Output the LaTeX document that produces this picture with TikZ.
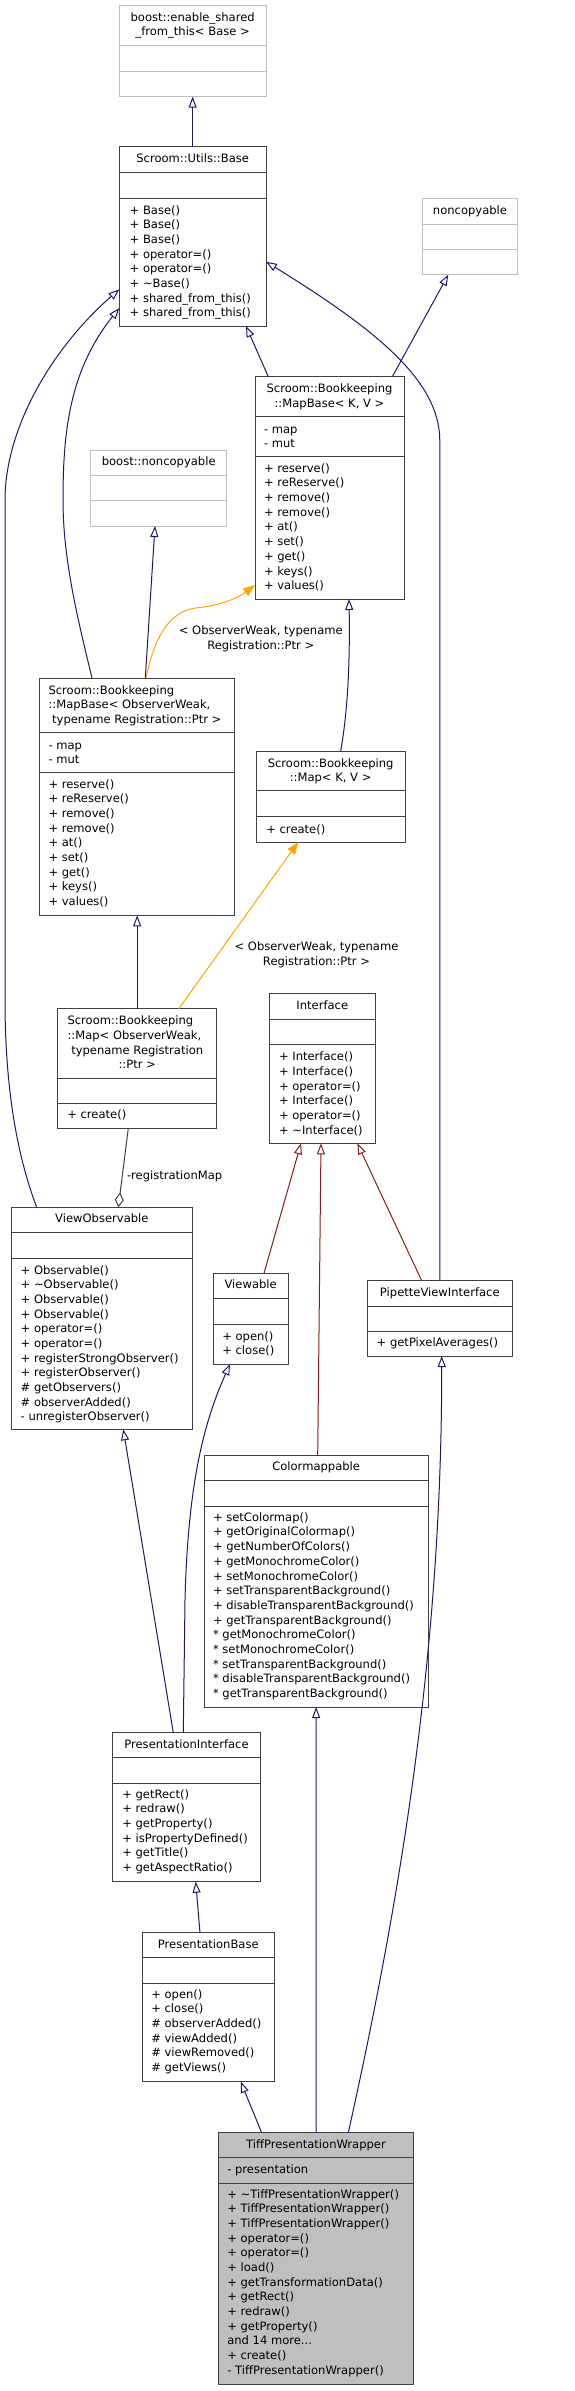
\documentclass[tikz,border=0pt]{standalone}
\usepackage{fontspec}
\setmainfont{DejaVu Sans}
\usetikzlibrary{arrows.meta}
\definecolor{edgeblue}{HTML}{191970}
\definecolor{edgered}{HTML}{8B1A1A}
\definecolor{edgeorange}{HTML}{FFA500}
\definecolor{edgegray}{HTML}{404040}
\definecolor{boxline}{HTML}{404040}
\definecolor{lightline}{HTML}{BFBFBF}
\definecolor{hlfill}{HTML}{BFBFBF}
\tikzset{
 txt/.style={inner sep=0pt, outer sep=0pt, font=\fontsize{11.55}{14.67}\selectfont},
 umlbox/.style={draw=boxline, line width=1pt, inner sep=0pt, outer sep=0pt, fill=white},
 extbox/.style={umlbox, draw=lightline},
 hlbox/.style={umlbox, fill=hlfill},
 inh/.style={draw=edgeblue, line width=1pt, -{Triangle[open, length=11pt, width=8pt]}},
 prot/.style={inh, draw=edgered},
 tmpl/.style={draw=edgeorange, line width=1pt, -{Triangle[length=12pt, width=9pt, fill=edgeorange]}},
 usage/.style={draw=edgegray, line width=1pt, -{Diamond[open, length=15pt, width=9pt]}},
}
% #1 name, #2 style, #3 separator colour, #4 L, #5 T, #6 W, #7 H, #8 s1, #9 s2
\newcommand\umlclass[9]{%
 \node[#2, anchor=north west, minimum width=#6pt, minimum height=#7pt] (#1) at (#4,#5) {};
 \draw[line width=1pt, draw=#3] (#4,#8) -- ++(#6,0);
 \draw[line width=1pt, draw=#3] (#4,#9) -- ++(#6,0);
}
\newcommand\txtL[4]{\node[txt, align=left, anchor=north west] (#1) at (#2,#3-6) {\rule{0pt}{10pt}#4};}
\newcommand\txtC[4]{\node[txt, align=center, anchor=north] (#1) at (#2,#3-6) {\rule{0pt}{10pt}#4};}
\begin{document}
\begin{tikzpicture}[x=1pt, y=-1pt]
\useasboundingbox (0,0) rectangle (575,2391);

% boxes
\umlclass{esft}{extbox}{lightline}{119.3}{5.7}{146.7}{91}{45.7}{71}
\txtC{esft-t}{192.65}{17}{boost::enable\_shared\\\_from\_this< Base >}

\umlclass{base}{umlbox}{boxline}{119.3}{146.7}{146.7}{179.3}{172.7}{198.3}
\txtC{base-t}{192.65}{158.7}{Scroom::Utils::Base}
\txtL{base-m}{129.7}{210}{+ Base()\\+ Base()\\+ Base()\\+ operator=()\\+ operator=()\\+ \textasciitilde Base()\\+ shared\_from\_this()\\+ shared\_from\_this()}

\umlclass{ncp}{extbox}{lightline}{422.3}{198.7}{95.4}{76}{224}{249.3}
\txtC{ncp-t}{470}{210.7}{noncopyable}

\umlclass{mbkv}{umlbox}{boxline}{255}{376.7}{149}{222.3}{416}{456.7}
\txtC{mbkv-t}{329.5}{388.7}{Scroom::Bookkeeping\\::MapBase< K, V >}
\txtL{mbkv-a}{264}{429}{- map\\- mut}
\txtL{mbkv-m}{264}{468.3}{+ reserve()\\+ reReserve()\\+ remove()\\+ remove()\\+ at()\\+ set()\\+ get()\\+ keys()\\+ values()}

\umlclass{bnc}{extbox}{lightline}{90.7}{450}{136}{76}{475.3}{500.3}
\txtC{bnc-t}{158.7}{461.7}{boost::noncopyable}

\umlclass{mbow}{umlbox}{boxline}{39.3}{678}{195.4}{237.3}{732.7}{772.7}
\txtL{mbow-t}{48.5}{690}{Scroom::Bookkeeping\\::MapBase< ObserverWeak,\\\hspace*{3.67pt}typename Registration::Ptr >}
\txtL{mbow-a}{48.5}{745}{- map\\- mut}
\txtL{mbow-m}{48.5}{784}{+ reserve()\\+ reReserve()\\+ remove()\\+ remove()\\+ at()\\+ set()\\+ get()\\+ keys()\\+ values()}

\umlclass{mkv}{umlbox}{boxline}{256}{751}{149.3}{91}{790.3}{816.7}
\txtC{mkv-t}{330.65}{763.3}{Scroom::Bookkeeping\\::Map< K, V >}
\txtL{mkv-m}{266.3}{829}{+ create()}

\umlclass{mow}{umlbox}{boxline}{57.7}{1008.7}{159}{119.6}{1078.3}{1103.3}
\txtL{mow-t}{67.5}{1020.7}{Scroom::Bookkeeping\\::Map< ObserverWeak,}
\txtC{mow-t2}{137.2}{1050}{typename Registration\\::Ptr >}
\txtL{mow-m}{67.3}{1114.3}{+ create()}

\umlclass{iface}{umlbox}{boxline}{269.3}{993.7}{106}{149.6}{1019.3}{1044.7}
\txtC{iface-t}{322.3}{1005.7}{Interface}
\txtL{iface-m}{279}{1056.7}{+ Interface()\\+ Interface()\\+ operator=()\\+ Interface()\\+ operator=()\\+ \textasciitilde Interface()}

\umlclass{vobs}{umlbox}{boxline}{11.7}{1207.3}{180.3}{222}{1232.7}{1258}
\txtC{vobs-t}{101.85}{1218.7}{ViewObservable}
\txtL{vobs-m}{20.7}{1270}{+ Observable()\\+ \textasciitilde Observable()\\+ Observable()\\+ Observable()\\+ operator=()\\+ operator=()\\+ registerStrongObserver()\\+ registerObserver()\\\# getObservers()\\\# observerAdded()\\- unregisterObserver()}

\umlclass{viewable}{umlbox}{boxline}{213.3}{1273.3}{74.7}{90.7}{1298.7}{1324}
\txtC{viewable-t}{250.65}{1284.7}{Viewable}
\txtL{viewable-m}{222.3}{1336}{+ open()\\+ close()}

\umlclass{pvi}{umlbox}{boxline}{367.3}{1280.7}{145}{75.3}{1306.7}{1331.3}
\txtC{pvi-t}{439.8}{1292.7}{PipetteViewInterface}
\txtL{pvi-m}{376.7}{1342.7}{+ getPixelAverages()}

\umlclass{cmap}{umlbox}{boxline}{204}{1455.3}{224.3}{251.7}{1480.7}{1506}
\txtC{cmap-t}{316.15}{1466.7}{Colormappable}
\txtL{cmap-m}{213}{1517.3}{+ setColormap()\\+ getOriginalColormap()\\+ getNumberOfColors()\\+ getMonochromeColor()\\+ setMonochromeColor()\\+ setTransparentBackground()\\+ disableTransparentBackground()\\+ getTransparentBackground()\\{}* getMonochromeColor()\\{}* setMonochromeColor()\\{}* setTransparentBackground()\\{}* disableTransparentBackground()\\{}* getTransparentBackground()}

\umlclass{pi}{umlbox}{boxline}{112.7}{1732.7}{147.6}{149}{1757.7}{1783}
\txtC{pi-t}{186.5}{1744.7}{PresentationInterface}
\txtL{pi-m}{122.3}{1794}{+ getRect()\\+ redraw()\\+ getProperty()\\+ isPropertyDefined()\\+ getTitle()\\+ getAspectRatio()}

\umlclass{pb}{umlbox}{boxline}{142.3}{1932.7}{132}{149}{1957.7}{1983}
\txtC{pb-t}{208.3}{1944.7}{PresentationBase}
\txtL{pb-m}{151.3}{1994}{+ open()\\+ close()\\\# observerAdded()\\\# viewAdded()\\\# viewRemoved()\\\# getViews()}

\umlclass{tpw}{hlbox}{boxline}{218.3}{2132.7}{195.4}{251.3}{2157.7}{2183}
\txtC{tpw-t}{316}{2144.7}{TiffPresentationWrapper}
\txtL{tpw-a}{227.3}{2169.7}{- presentation}
\txtL{tpw-m}{227.3}{2194}{+ \textasciitilde TiffPresentationWrapper()\\+ TiffPresentationWrapper()\\+ TiffPresentationWrapper()\\+ operator=()\\+ operator=()\\+ load()\\+ getTransformationData()\\+ getRect()\\+ redraw()\\+ getProperty()\\and 14 more...\\+ create()\\- TiffPresentationWrapper()}

% connectors
\draw[inh] (base.north) -- (esft.south);
\draw[inh] ([xshift=-61.2pt]mbkv.north) -- ([xshift=53.35pt]base.south);
\draw[inh] ([xshift=62.8pt]mbkv.north) -- ([xshift=-21.7pt]ncp.south);
\draw[inh] (pvi.north) -- ++(0,-840) .. controls +(0,-60) and +(110,68) .. ([yshift=-25.35pt]base.east);
\draw[inh] ([xshift=-45pt]mbow.north) .. controls (78,620) and (63,560) .. (63,500) .. controls (63,430) and (70,370) .. ([yshift=-71.65pt]base.west);
\draw[inh] ([xshift=-65.15pt]vobs.north) .. controls (15,1150) and (5,1080) .. (5,1000) -- (5,500) .. controls (5,430) and (50,350) .. ([yshift=-52.95pt]base.west);
\draw[inh] ([xshift=8.3pt]mbow.north) -- ([xshift=-3.7pt]bnc.south);
\draw[tmpl] ([xshift=9pt]mbow.north) .. controls (155,635) and (170,612) .. (195,608) .. controls (220,606) and (238,598) .. ([yshift=-97.15pt]mbkv.west);
\draw[tmpl] ([xshift=41.6pt]mow.north) -- ([xshift=-32.35pt]mkv.south);
\draw[inh] ([xshift=10.05pt]mkv.north) .. controls (348,710) and (350,660) .. ([xshift=19.5pt]mbkv.south);
\draw[inh] (mow.north) -- (mow.north |- mbow.south);
\draw[usage] ([xshift=-8.9pt]mow.south) -- ([xshift=16.45pt]vobs.north);
\draw[prot] ([xshift=13.35pt]viewable.north) -- ([xshift=-21.3pt]iface.south);
\draw[prot] ([xshift=1.55pt]cmap.north) -- ([xshift=-1.3pt]iface.south);
\draw[prot] ([xshift=-18.1pt]pvi.north) -- ([xshift=35pt]iface.south);
\draw[inh] ([xshift=-13.2pt]pi.north) -- ([xshift=21.45pt]vobs.south);
\draw[inh] ([xshift=-3.2pt]pi.north) -- (185,1600) .. controls (188,1480) and (205,1420) .. ([xshift=-20.65pt]viewable.south);
\draw[inh] (tpw.north) -- (cmap.south);
\draw[inh] ([xshift=32.3pt]tpw.north) .. controls (400,1900) and (442,1650) .. ([xshift=1.9pt]pvi.south);
\draw[inh] ([xshift=-8.3pt]pb.north) -- ([xshift=9.2pt]pi.south);
\draw[inh] ([xshift=-54.3pt]tpw.north) -- ([xshift=32.4pt]pb.south);

% labels
\txtC{lbl1}{260.8}{630.7}{< ObserverWeak, typename\\Registration::Ptr >}
\txtC{lbl2}{316.5}{946.7}{< ObserverWeak, typename\\Registration::Ptr >}
\txtL{lbl3}{127}{1175}{-registrationMap}
\end{tikzpicture}
\end{document}
